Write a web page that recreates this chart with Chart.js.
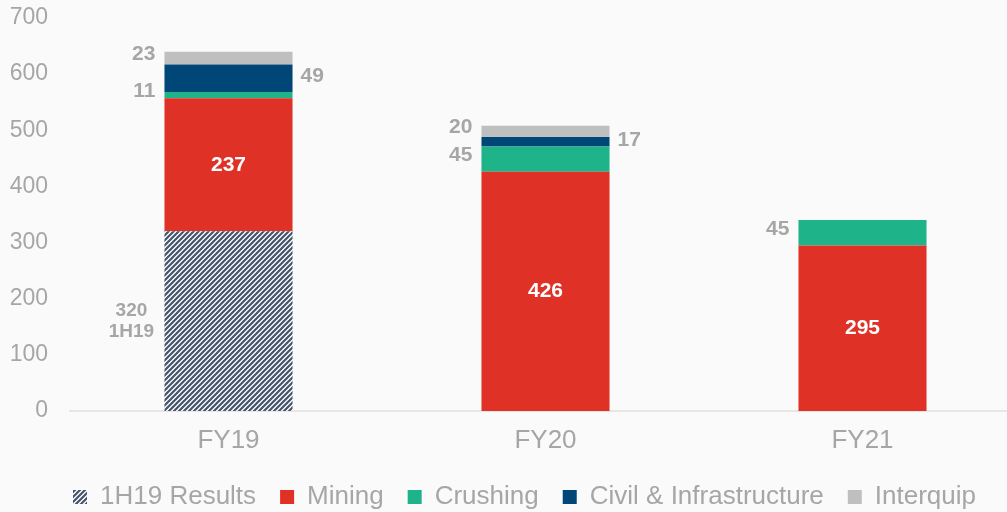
<!DOCTYPE html>
<html>
<head>
<meta charset="utf-8">
<script src="https://cdn.jsdelivr.net/npm/chart.js@4/dist/chart.umd.min.js"></script>
<style>
  html, body { margin: 0; padding: 0; background: #fafafa; overflow: hidden; }
  #wrap { width: 1021px; height: 512px; position: relative; }
</style>
</head>
<body>
<div id="wrap"><canvas id="c"></canvas></div>
<script>
const categories = ['FY19', 'FY20', 'FY21'];
const results1H19 = [320, null, null];
const mining = [237, 426, 295];
const crushing = [11, 45, 45];
const civil = [49, 17, null];
const interquip = [23, 20, null];
const yTicks = [0, 100, 200, 300, 400, 500, 600, 700];

function makeHatch() {
  const s = 5;
  const c = document.createElement('canvas');
  c.width = s; c.height = s;
  const g = c.getContext('2d');
  g.fillStyle = '#ffffff';
  g.fillRect(0, 0, s, s);
  g.strokeStyle = '#44546a';
  g.lineWidth = 2.2;
  g.beginPath();
  g.moveTo(-1, s + 1); g.lineTo(s + 1, -1);
  g.moveTo(-1, 1); g.lineTo(1, -1);
  g.moveTo(s - 1, s + 1); g.lineTo(s + 1, s - 1);
  g.stroke();
  return g.createPattern(c, 'repeat');
}
const hatch = makeHatch();

const GRAY = '#a6a6a6';
const FONT = '"Liberation Sans", Arial, sans-serif';
const labelSide = ['left2', 'in', 'left', 'right', 'left'];

const labelPlugin = {
  id: 'segLabels',
  afterDatasetsDraw(chart) {
    const ctx = chart.ctx;
    ctx.save();
    ctx.textBaseline = 'middle';
    chart.data.datasets.forEach((ds, di) => {
      const meta = chart.getDatasetMeta(di);
      meta.data.forEach((bar, i) => {
        const v = ds.data[i];
        if (v == null) return;
        const side = labelSide[di];
        const midY = (bar.y + bar.base) / 2;
        const half = bar.width / 2;
        ctx.font = 'bold 21px ' + FONT;
        if (side === 'in') {
          ctx.fillStyle = '#ffffff';
          ctx.textAlign = 'center';
          ctx.fillText(String(v), bar.x, midY);
        } else if (side === 'left') {
          ctx.fillStyle = GRAY;
          ctx.textAlign = 'right';
          ctx.fillText(String(v), bar.x - half - 9, midY - 4);
        } else if (side === 'right') {
          ctx.fillStyle = GRAY;
          ctx.textAlign = 'left';
          ctx.fillText(String(v), bar.x + half + 8, midY - 2);
        } else if (side === 'left2') {
          ctx.fillStyle = GRAY;
          ctx.textAlign = 'center';
          ctx.font = 'bold 19px ' + FONT;
          ctx.fillText(String(v), bar.x - half - 33, midY - 10);
          ctx.fillText('1H19', bar.x - half - 33, midY + 11);
        }
      });
    });
    ctx.restore();
  }
};

const legendFitPlugin = {
  id: 'legendFit',
  afterInit(chart) {
    const lg = chart.legend;
    if (!lg) return;
    const orig = lg.fit.bind(lg);
    lg.fit = function () { orig(); this.height = 52; };
  },
  afterLayout(chart) {
    const lg = chart.legend;
    if (!lg) return;
    lg.left += 14; lg.right += 14;
  }
};

const common = { barPercentage: 0.404, categoryPercentage: 1.0, borderWidth: 0 };

new Chart(document.getElementById('c'), {
  type: 'bar',
  data: {
    labels: categories,
    datasets: [
      { label: '1H19 Results', data: results1H19, backgroundColor: hatch, ...common },
      { label: 'Mining', data: mining, backgroundColor: '#e03127', ...common },
      { label: 'Crushing', data: crushing, backgroundColor: '#1fb38a', ...common },
      { label: 'Civil & Infrastructure', data: civil, backgroundColor: '#004677', ...common },
      { label: 'Interquip', data: interquip, backgroundColor: '#bfbfbf', ...common }
    ]
  },
  options: {
    responsive: true,
    maintainAspectRatio: false,
    animation: false,
    layout: { padding: { top: 18, left: 0, right: 0, bottom: 0 } },
    plugins: {
      tooltip: { enabled: false },
      legend: {
        position: 'bottom',
        labels: {
          boxWidth: 14, boxHeight: 14,
          padding: 24,
          color: GRAY,
          font: { family: FONT, size: 26 }
        }
      }
    },
    scales: {
      x: {
        stacked: true,
        afterFit(scale) { scale.height = 49; },
        grid: { display: false, drawTicks: false },
        border: { display: true, color: '#e6e6e6', width: 2 },
        ticks: { color: GRAY, padding: 14, font: { family: FONT, size: 26 } }
      },
      y: {
        stacked: true,
        min: 0, max: 700,
        afterFit(scale) { scale.width = 70; scale.paddingTop = 0; scale.paddingBottom = 0; },
        afterBuildTicks(scale) { scale.ticks = yTicks.map(v => ({ value: v })); },
        grid: { display: false, drawTicks: false },
        border: { display: false },
        ticks: { color: GRAY, padding: 22, font: { family: FONT, size: 23 } }
      }
    }
  },
  plugins: [labelPlugin, legendFitPlugin]
});
</script>
</body>
</html>
